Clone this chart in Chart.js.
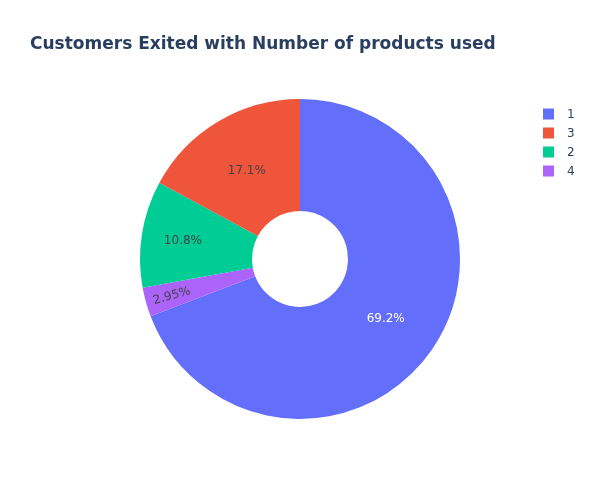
<!DOCTYPE html>
<html>
<head>
<meta charset="utf-8">
<script src="https://cdn.jsdelivr.net/npm/chart.js@4"></script>
<style>
html,body{margin:0;padding:0;background:#fff;}
#wrap{width:600px;height:500px;position:relative;}
</style>
</head>
<body>
<div id="wrap"><canvas id="c" width="600" height="500"></canvas></div>
<script>
// Data (legend order, as in the reference)
const legendLabels = ['1', '3', '2', '4'];
const counts = [1409, 348, 220, 60];
const sliceColors = ['#636efa', '#EF553B', '#00cc96', '#ab63fa'];
// Order the slices appear clockwise from 12 o'clock
const drawOrder = ['1', '4', '2', '3'];
const titleText = 'Customers Exited with Number of products used';

const idx = drawOrder.map(l => legendLabels.indexOf(l));
const total = counts.reduce((a, b) => a + b, 0);

const FONT = '"DejaVu Sans", "Open Sans", sans-serif';

const overlay = {
  id: 'overlay',
  afterDraw(chart) {
    const ctx = chart.ctx;
    const meta = chart.getDatasetMeta(0);
    const opts = chart.options.plugins.overlay;
    meta.data.forEach((arc, i) => {
      const p = arc.getProps(['startAngle', 'endAngle', 'innerRadius', 'outerRadius', 'x', 'y'], true);
      const mid = (p.startAngle + p.endAngle) / 2;
      const lbl = drawOrder[i];
      const v = chart.data.datasets[0].data[i];
      const txt = (v / total * 100).toPrecision(3) + '%';
      const frac = opts.radialFrac[lbl];
      const r = p.innerRadius + frac * (p.outerRadius - p.innerRadius);
      const x = p.x + Math.cos(mid) * r;
      const y = p.y + Math.sin(mid) * r + 1;
      ctx.save();
      ctx.translate(x, y);
      if (opts.radialText[lbl]) {
        let a = mid;
        if (Math.cos(a) < 0) a += Math.PI;
        ctx.rotate(a);
      }
      ctx.font = '12px ' + FONT;
      ctx.textAlign = 'center';
      ctx.textBaseline = 'middle';
      ctx.fillStyle = opts.textColor[lbl];
      ctx.fillText(txt, 0, 0);
      ctx.restore();
    });
    // title
    ctx.save();
    ctx.font = 'bold 17px ' + FONT;
    ctx.fillStyle = '#2a3f5f';
    ctx.textAlign = 'left';
    ctx.textBaseline = 'middle';
    ctx.fillText(titleText, 30, 45);
    // legend
    legendLabels.forEach((l, i) => {
      const cy = 114.5 + i * 19;
      ctx.fillStyle = sliceColors[i];
      ctx.fillRect(543, cy - 6, 11, 11);
      ctx.font = '12px ' + FONT;
      ctx.fillStyle = '#2a3f5f';
      ctx.textBaseline = 'middle';
      ctx.fillText(l, 567, cy);
    });
    ctx.restore();
  }
};

new Chart(document.getElementById('c'), {
  type: 'doughnut',
  data: {
    labels: drawOrder,
    datasets: [{
      data: idx.map(i => counts[i]),
      backgroundColor: idx.map(i => sliceColors[i]),
      borderWidth: 0
    }]
  },
  options: {
    responsive: false,
    animation: false,
    cutout: '30%',
    layout: { padding: { left: 140, right: 140, top: 99, bottom: 81 } },
    plugins: {
      legend: { display: false },
      title: { display: false },
      tooltip: { enabled: false },
      overlay: {
        radialFrac: { '1': 0.5, '3': 0.5, '2': 0.63, '4': 0.76 },
        radialText: { '1': false, '3': false, '2': false, '4': true },
        textColor: { '1': '#ffffff', '3': '#444444', '2': '#444444', '4': '#444444' }
      }
    }
  },
  plugins: [overlay]
});
</script>
</body>
</html>
